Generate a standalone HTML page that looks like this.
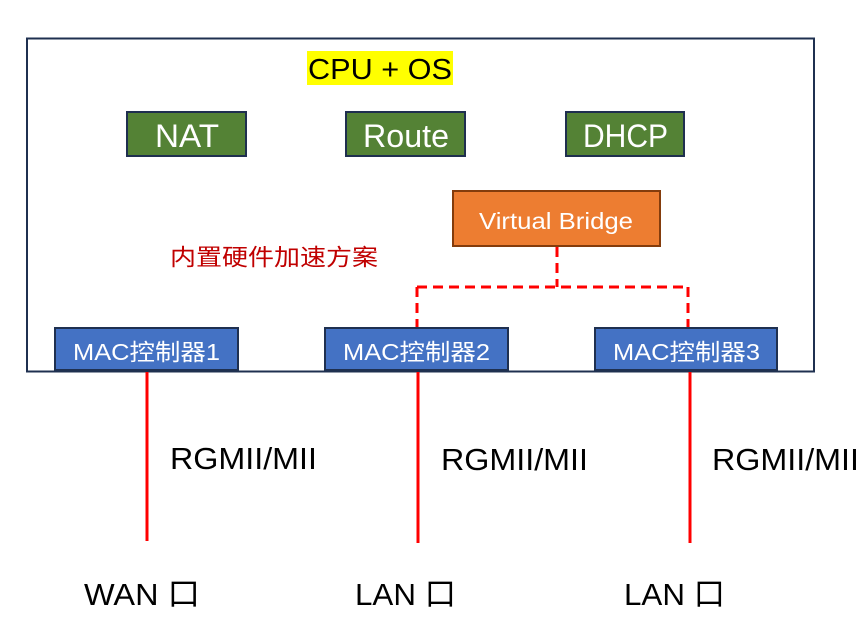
<!DOCTYPE html>
<html><head><meta charset="utf-8"><style>
html,body{margin:0;padding:0;background:#fff;}
svg{display:block;}
text{font-family:"Liberation Sans","Noto Sans CJK SC",sans-serif;}
</style></head><body>
<svg width="868" height="637" viewBox="0 0 868 637" xmlns="http://www.w3.org/2000/svg">
<rect x="27" y="38.5" width="787" height="333" fill="#fff" stroke="#1f3050" stroke-width="2"/>
<rect x="307" y="51" width="146" height="34" fill="#ffff00"/>
<text x="308" y="79" font-size="29" fill="#000" textLength="144" lengthAdjust="spacingAndGlyphs">CPU + OS</text>
<g stroke="#1f2f4f" stroke-width="2" fill="#548235">
<rect x="127" y="112" width="119" height="44"/>
<rect x="346" y="112" width="119" height="44"/>
<rect x="566" y="112" width="118" height="44"/>
</g>
<g fill="#fff" font-size="32">
<text x="155" y="147" textLength="64" lengthAdjust="spacingAndGlyphs">NAT</text>
<text x="363" y="147" textLength="86" lengthAdjust="spacingAndGlyphs">Route</text>
<text x="583" y="147" textLength="85" lengthAdjust="spacingAndGlyphs">DHCP</text>
</g>
<rect x="453" y="191" width="207" height="55" fill="#ed7d31" stroke="#843c0c" stroke-width="2"/>
<text x="479" y="229" font-size="23" fill="#fff" textLength="154" lengthAdjust="spacingAndGlyphs">Virtual Bridge</text>
<text x="170" y="265" font-size="23" fill="#c00000" textLength="208" lengthAdjust="spacingAndGlyphs">内置硬件加速方案</text>
<g stroke="#ff0000" stroke-width="3" fill="none" stroke-dasharray="10,6">
<line x1="557" y1="247" x2="557" y2="287"/>
<line x1="417" y1="287" x2="688" y2="287"/>
<line x1="417" y1="287" x2="417" y2="327"/>
<line x1="688" y1="287" x2="688" y2="327"/>
</g>
<g fill="#4472c4" stroke="#1f3050" stroke-width="2">
<rect x="55" y="328" width="183" height="42"/>
<rect x="325" y="328" width="183" height="42"/>
<rect x="595" y="328" width="182" height="42"/>
</g>
<g fill="#fff" font-size="23">
<text x="73" y="360" textLength="147" lengthAdjust="spacingAndGlyphs">MAC控制器1</text>
<text x="343" y="360" textLength="147" lengthAdjust="spacingAndGlyphs">MAC控制器2</text>
<text x="613" y="360" textLength="147" lengthAdjust="spacingAndGlyphs">MAC控制器3</text>
</g>
<g stroke="#ff0000" stroke-width="3">
<line x1="147" y1="372" x2="147" y2="541"/>
<line x1="418" y1="372" x2="418" y2="543"/>
<line x1="690" y1="372" x2="690" y2="543"/>
</g>
<g fill="#000" font-size="31">
<text x="170" y="469" textLength="147" lengthAdjust="spacingAndGlyphs">RGMII/MII</text>
<text x="441" y="470" textLength="147" lengthAdjust="spacingAndGlyphs">RGMII/MII</text>
<text x="712" y="470" textLength="147" lengthAdjust="spacingAndGlyphs">RGMII/MII</text>
<text x="84" y="605" textLength="116" lengthAdjust="spacingAndGlyphs">WAN 口</text>
<text x="355" y="605" textLength="101" lengthAdjust="spacingAndGlyphs">LAN 口</text>
<text x="624" y="605" textLength="101" lengthAdjust="spacingAndGlyphs">LAN 口</text>
</g>
</svg>
</body></html>
